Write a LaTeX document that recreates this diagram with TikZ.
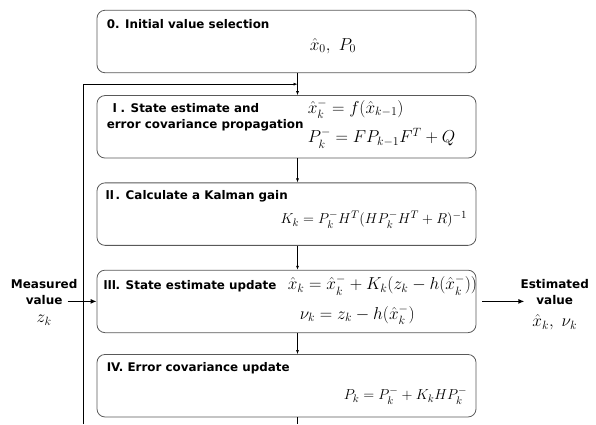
\documentclass[tikz,border=0pt]{standalone}
\usepackage{amsmath}
\usepackage{fontspec}
\setsansfont{DejaVu Sans}
\newfontfamily\numfont{Noto Sans CJK KR}
\usetikzlibrary{arrows.meta, positioning}
\tikzset{
    stage/.style={rectangle, rounded corners=8pt, draw=black!65, line width=0.8pt, minimum width=379pt, minimum height=62.5pt},
    title/.style={font=\sffamily\bfseries\fontsize{11.9}{16}\selectfont, align=left, inner sep=0pt},
    formula/.style={font=\fontsize{#1}{#1}\selectfont, align=left, inner sep=0pt},
    formula/.default=16.5,
    side/.style={font=\sffamily\bfseries\fontsize{12}{16}\selectfont, align=center, inner sep=0pt},
    flow/.style={-{Latex[length=4pt, width=3pt]}, line width=0.6pt},
    io/.style={-{Latex[length=6pt, width=5pt]}, line width=1.6pt}
}

\begin{document}
\begin{tikzpicture}[x=1pt, y=1pt]
    \useasboundingbox (0,0) rectangle (596,-424);

    % --- Stages ---
    \node (b0) [stage] at (286.5,-41.5) {};
    \node (b1) [stage, below=22pt of b0] {};
    \node (b2) [stage, below=24pt of b1] {};
    \node (b3) [stage, below=24pt of b2] {};
    \node (b4) [stage, below=21pt of b3] {};

    % --- Stage texts ---
    \node (t0) [title, below right=9pt and 10pt of b0.north west] {0. Initial value selection};
    \node (f0) [formula=18, below right=28pt and 213pt of b0.north west] {$\hat{x}_0,\ P_0$};

    \node (t1) [title, below right=8pt and 10pt of b1.north west] {\,{\numfont Ⅰ}. State estimate and\\error covariance propagation};
    \node (f1) [formula=18.5, below right=4pt and 211pt of b1.north west] {$\hat{x}_k^- = f(\hat{x}_{k-1})$\\[9pt]$P_k^- = F P_{k-1} F^T + Q$};

    \node (t2) [title, below right=8pt and 7pt of b2.north west] {{\numfont Ⅱ}. Calculate a Kalman gain};
    \node (f2) [formula=15.2, below left=28pt and 9pt of b2.north east] {$K_k = P_k^- H^T (H P_k^- H^T + R)^{-1}$};

    \node (t3) [title, below right=10pt and 7pt of b3.north west] {{\numfont Ⅲ}. State estimate update};
    \node (f3) [formula, below right=6pt and 191pt of b3.north west] {$\hat{x}_k = \hat{x}_k^- + K_k(z_k - h(\hat{x}_k^-))$\\[9pt]\hspace*{12pt}$\nu_k = z_k - h(\hat{x}_k^-)$};

    \node (t4) [title, below right=8pt and 10pt of b4.north west] {IV. Error covariance update};
    \node (f4) [formula=15.3, below left=33pt and 9pt of b4.north east] {$P_k = P_k^- + K_k H P_k^-$};

    % --- Input / output ---
    \node (meas) [side, left=19pt of b3.west, yshift=9pt] {Measured\\value};
    \node (zk) [formula, below=10pt of meas] {$z_k$};
    \node (est) [side, right=44pt of b3.east, yshift=9pt] {Estimated\\value};
    \node (xk) [formula, below=9pt of est] {$\hat{x}_k,\ \nu_k$};

    \draw [io] ([xshift=-10pt]meas.east |- b3.west) -- (b3.west);
    \draw [io] ([xshift=6pt]b3.east) -- ([xshift=4pt]est.west |- b3.east);

    % --- Flow between stages ---
    \draw [flow] ([xshift=11pt]b0.south) -- ([xshift=11pt]b1.north);
    \draw [flow] ([xshift=11pt]b1.south) -- ([xshift=11pt]b2.north);
    \draw [flow] ([xshift=11pt]b2.south) -- ([xshift=11pt]b3.north);
    \draw [flow] ([xshift=11pt]b3.south) -- ([xshift=11pt]b4.north);

    % --- Feedback loop ---
    \coordinate (join) at ([xshift=11pt, yshift=-11pt]b0.south);
    \coordinate (loopbot) at (83,-424);
    \draw [line width=0.6pt] ([xshift=11pt]b4.south) -- ([xshift=11pt]b4.south |- loopbot);
    \draw [flow] (loopbot) |- (join);
\end{tikzpicture}
\end{document}
